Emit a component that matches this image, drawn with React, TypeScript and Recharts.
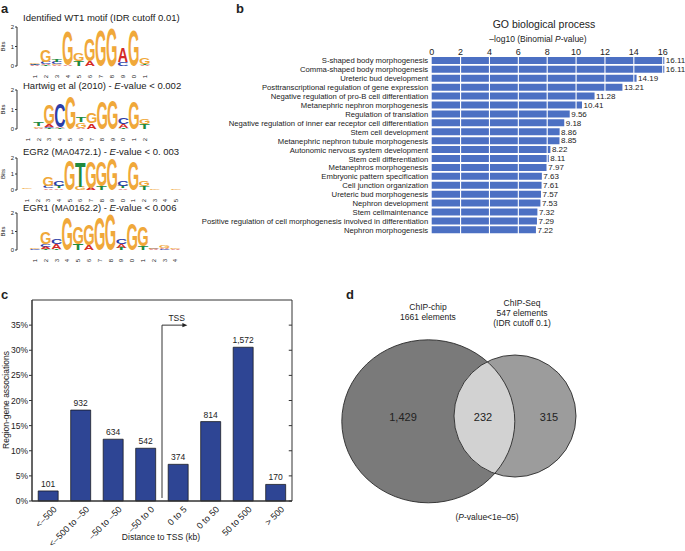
import React from 'react';
import {
  BarChart, Bar, XAxis, YAxis, ReferenceLine, ReferenceArea, LabelList,
  ScatterChart, Scatter, ComposedChart, Line,
} from 'recharts';

const FONT = '"Liberation Sans", Arial, Helvetica, sans-serif';
const INK = '#222';

// ---------------- Panel a : motif logos ----------------
const logoTitlePre = [
  'Identified WT1 motif (IDR cutoff 0.01)',
  'Hartwig et al (2010) - ',
  'EGR2 (MA0472.1) - ',
  'EGR1 (MA0162.2) - ',
];
const logoTitlePost = ['', '-value < 0.002', '-value < 0. 003', '-value < 0.006'];
const bitsTicks = [0, 1, 2];

type Stack = [string, number][];
const logo1: Stack[] = [
  [['A', 0.03], ['T', 0.03], ['C', 0.04], ['G', 0.05]],
  [['T', 0.04], ['A', 0.08], ['C', 0.1], ['G', 0.62]],
  [['A', 0.05], ['G', 0.05], ['C', 0.1], ['T', 0.14]],
  [['A', 0.04], ['G', 1.78]],
  [['T', 0.28], ['G', 0.38]],
  [['A', 0.25], ['G', 1.15]],
  [['G', 1.87]],
  [['G', 1.98]],
  [['C', 0.18], ['A', 0.75]],
  [['G', 1.82]],
  [['A', 0.04], ['T', 0.08], ['G', 0.32]],
];
const logo2: Stack[] = [
  [['A', 0.02], ['G', 0.02]],
  [['A', 0.06], ['G', 0.08], ['T', 0.22]],
  [['T', 0.04], ['C', 0.08], ['A', 0.12], ['G', 1.05]],
  [['T', 0.04], ['A', 0.05], ['C', 1.25]],
  [['G', 1.7]],
  [['A', 0.05], ['G', 0.3], ['T', 0.3]],
  [['A', 0.3], ['G', 0.55]],
  [['G', 1.42]],
  [['G', 1.5]],
  [['T', 0.06], ['A', 0.2], ['C', 0.35]],
  [['G', 1.45]],
  [['T', 0.25], ['G', 0.3]],
];
const logo3: Stack[] = [
  [['T', 0.02], ['A', 0.03], ['G', 0.06]],
  [['G', 0.02]],
  [['A', 0.1], ['C', 0.12], ['G', 0.55]],
  [['A', 0.1], ['T', 0.12], ['C', 0.3]],
  [['G', 1.95]],
  [['G', 0.2], ['T', 1.6]],
  [['A', 0.12], ['G', 1.68]],
  [['T', 0.28], ['G', 1.55]],
  [['G', 1.98]],
  [['A', 0.1], ['T', 0.12], ['C', 0.32]],
  [['G', 1.82]],
  [['T', 0.22], ['G', 0.32]],
  [['A', 0.03], ['G', 0.06]],
  [['G', 0.03]],
  [['A', 0.03], ['G', 0.06]],
];
const logo4: Stack[] = [
  [['T', 0.02], ['C', 0.03], ['G', 0.04]],
  [['T', 0.05], ['A', 0.12], ['C', 0.15], ['G', 0.65]],
  [['T', 0.05], ['A', 0.25], ['C', 0.28]],
  [['G', 1.78]],
  [['T', 0.35], ['G', 0.95]],
  [['A', 0.25], ['G', 1.15]],
  [['G', 1.82]],
  [['G', 1.98]],
  [['T', 0.1], ['A', 0.2], ['C', 0.3]],
  [['G', 1.45]],
  [['T', 0.2], ['G', 1.1]],
  [['A', 0.04], ['C', 0.04], ['G', 0.05]],
  [['C', 0.05], ['A', 0.05], ['G', 0.12]],
  [['A', 0.03], ['G', 0.05]],
];
const logoStacks = [logo1, logo2, logo3, logo4];

// ---------------- Panel b : GO biological process ----------------
const goTerms = [
  'S-shaped body morphogenesis',
  'Comma-shaped body morphogenesis',
  'Ureteric bud development',
  'Posttranscriptional regulation of gene expression',
  'Negative regulation of pro-B cell differentiation',
  'Metanephric nephron morphogenesis',
  'Regulation of translation',
  'Negative regulation of inner ear receptor cell differentiation',
  'Stem cell development',
  'Metanephric nephron tubule morphogenesis',
  'Autonomic nervous system development',
  'Stem cell differentiation',
  'Metanephros morphogenesis',
  'Embryonic pattern specification',
  'Cell junction organization',
  'Ureteric bud morphogenesis',
  'Nephron development',
  'Stem cellmaintenance',
  'Positive regulation of cell morphogenesis involved in differentiation',
  'Nephron morphogenesis',
];
const goValues = [16.11, 16.11, 14.19, 13.21, 11.28, 10.41, 9.56, 9.18, 8.86, 8.85, 8.22, 8.11, 7.97, 7.63, 7.61, 7.57, 7.53, 7.32, 7.29, 7.22];
const goTicks = [0, 2, 4, 6, 8, 10, 12, 14, 16];

// ---------------- Panel c : distance to TSS ----------------
const tssBins = ['<–500', '<–500 to –50', '–50 to –50', '–50 to 0', '0 to 5', '0 to 50', '50 to 500', '> 500'];
const tssCounts = [101, 932, 634, 542, 374, 814, 1572, 170];
const tssPercent = [2.0, 18.1, 12.3, 10.5, 7.3, 15.8, 30.6, 3.3];
const tssTicks = [0, 5, 10, 15, 20, 25, 30, 35];

// ---------------- Panel d : Venn ----------------
const vennNames = ['ChIP-chip', 'ChIP-Seq'];
const vennCx = [88.3, 175];
const vennCy = [131.3, 126];
const vennRx = [86.5, 61];
const vennRy = [81.5, 61];
const vennCounts = ['1,429', '232', '315'];

// ---------------- helpers ----------------
const LETTER_COLORS: Record<string, string> = { A: '#D42A26', C: '#2B3DA8', G: '#F0A83A', T: '#208A3E' };
const LETTER_INK: Record<string, number> = { A: 70, C: 64, G: 68, T: 58 };

function Letter(props: any) {
  const { x, y, width, height, letter } = props;
  if (!letter || !(height > 0.3)) return null;
  const sx = width / LETTER_INK[letter];
  const sy = height / 72;
  return (
    <text
      transform={`translate(${x + width / 2},${y + height}) scale(${sx},${sy})`}
      textAnchor="middle"
      fontFamily={FONT}
      fontWeight={700}
      fontSize={100}
      fill={LETTER_COLORS[letter]}
    >
      {letter}
    </text>
  );
}

const logoLayouts = [
  { plotTop: 27, plotBottom: 66, first: 35, step: 11 },
  { plotTop: 90, plotBottom: 129, first: 28, step: 10.6 },
  { plotTop: 158, plotBottom: 190, first: 27, step: 10.65 },
  { plotTop: 213, plotBottom: 250, first: 35, step: 10.8 },
];
const logoTitleY = [20.5, 88.5, 155, 211];

function Logo({ idx }: { idx: number }) {
  const L = logoLayouts[idx];
  const stacks = logoStacks[idx];
  const n = stacks.length;
  const data = stacks.map((s, i) => {
    const row: any = { pos: String(i + 1) };
    for (let k = 0; k < 4; k++) {
      row['h' + k] = s[k] ? s[k][1] : 0;
      row['c' + k] = s[k] ? s[k][0] : '';
    }
    return row;
  });
  const axisX = 17;
  const mt = 4;
  const xh = 12;
  const plotRight = L.first + (n - 0.5) * L.step;
  const padLeft = L.first - L.step / 2 - axisX;
  const width = plotRight + 2;
  const height = mt + (L.plotBottom - L.plotTop) + xh;
  return (
    <div style={{ position: 'absolute', left: 0, top: L.plotTop - mt }}>
      <BarChart width={width} height={height} data={data} margin={{ top: mt, right: 2, bottom: 0, left: 0 }} barCategoryGap="3%">
        <XAxis
          dataKey="pos"
          axisLine={false}
          tickLine={false}
          height={xh}
          interval={0}
          padding={{ left: padLeft, right: 0 }}
          tick={(p: any) => (
            <text transform={`translate(${p.x + 2},${p.y + 1}) rotate(-90)`} textAnchor="end" fontSize={6} fill={INK} fontFamily={FONT}>
              {p.payload.value}
            </text>
          )}
        />
        <YAxis
          width={axisX}
          domain={[0, 2]}
          ticks={bitsTicks}
          tickSize={2}
          tickMargin={1}
          stroke="#333"
          tick={{ fontSize: 6, fill: INK, fontFamily: FONT }}
          label={{ value: 'Bits', angle: -90, position: 'insideLeft', offset: 3, style: { fontSize: 6, fill: INK, fontFamily: FONT, textAnchor: 'middle' } }}
        />
        {[0, 1, 2, 3].map((k) => (
          <Bar
            key={k}
            dataKey={'h' + k}
            stackId="s"
            isAnimationActive={false}
            shape={(p: any) => <Letter {...p} letter={p.payload ? p.payload['c' + k] : ''} />}
          />
        ))}
      </BarChart>
    </div>
  );
}

function GoChart() {
  const data = goTerms.map((t, i) => ({ term: t, v: goValues[i] }));
  return (
    <div style={{ position: 'absolute', left: 190, top: 0 }}>
      <BarChart
        width={495}
        height={240}
        data={data}
        layout="vertical"
        margin={{ top: 46.2, right: 19.4, bottom: 5.5, left: 0 }}
        barCategoryGap="8%"
      >
        <XAxis
          type="number"
          orientation="top"
          domain={[0, 16.2]}
          ticks={goTicks}
          height={10}
          axisLine={false}
          tickLine={false}
          tickSize={0}
          tickMargin={1}
          tick={{ fontSize: 9, fill: INK, fontFamily: FONT }}
        />
        <YAxis
          type="category"
          dataKey="term"
          width={241.7}
          axisLine={false}
          tickLine={false}
          tickSize={0}
          tickMargin={3.5}
          interval={0}
          tick={(p: any) => (
            <text x={p.x} y={p.y} dy={2.8} textAnchor="end" fontSize={7.7} fill={INK} fontFamily={FONT}>
              {p.payload.value}
            </text>
          )}
        />
        <Bar dataKey="v" fill="#4C70C3" isAnimationActive={false}>
          <LabelList dataKey="v" position="right" offset={1.5} fontSize={8} fill={INK} fontFamily={FONT} formatter={(v: any) => Number(v).toFixed(2)} />
        </Bar>
        {goTicks.slice(1).map((t) => (
          <ReferenceLine key={t} x={t} stroke="#ffffff" strokeWidth={1.1} />
        ))}
      </BarChart>
    </div>
  );
}

const TSS_W = 300;
const TSS_H = 266;
const TSS_M = { top: 15, right: 8, bottom: 0, left: 0 };

function TssChart() {
  const data = tssBins.map((b, i) => ({ bin: b, pct: tssPercent[i], count: tssCounts[i] }));
  const frameData = [{ n: 0, v: 0 }, { n: tssBins.length, v: 0 }];
  return (
    <>
      <div style={{ position: 'absolute', left: 0, top: 285 }}>
        <BarChart width={TSS_W} height={TSS_H} data={data} margin={TSS_M} barCategoryGap="19%">
          <XAxis
            dataKey="bin"
            height={50}
            interval={0}
            stroke="#333"
            tickLine={false}
            tick={(p: any) => (
              <text transform={`translate(${p.x + 9},${p.y + 1}) rotate(-45)`} textAnchor="end" fontSize={9} fill={INK} fontFamily={FONT}>
                {p.payload.value}
              </text>
            )}
          />
          <YAxis
            width={32}
            domain={[0, 40]}
            ticks={tssTicks}
            tickFormatter={(v: any) => v + '%'}
            stroke="#333"
            tickSize={3}
            tickMargin={1}
            tick={{ fontSize: 8.5, fill: INK, fontFamily: FONT }}
          />
          <Bar dataKey="pct" fill="#2E4594" stroke="#111" strokeWidth={0.7} isAnimationActive={false}>
            <LabelList dataKey="count" position="top" offset={4} fontSize={8.5} fill={INK} fontFamily={FONT} formatter={(v: any) => Number(v).toLocaleString('en-US')} />
          </Bar>
        </BarChart>
      </div>
      <div style={{ position: 'absolute', left: 0, top: 285, pointerEvents: 'none' }}>
        <ComposedChart width={TSS_W} height={TSS_H} data={frameData} margin={{ top: 15, right: 8, bottom: 50, left: 32 }}>
          <XAxis xAxisId="n" type="number" dataKey="n" domain={[0, tssBins.length]} hide />
          <YAxis domain={[0, 40]} hide />
          <Line xAxisId="n" dataKey="v" stroke="none" dot={false} isAnimationActive={false} />
          <ReferenceArea xAxisId="n" x1={0} x2={tssBins.length} y1={0} y2={40} fill="none" stroke="#333" strokeWidth={1} ifOverflow="visible" />
          {tssTicks.map((v) => (
            <ReferenceLine key={v} xAxisId="n" segment={[{ x: tssBins.length, y: v }, { x: tssBins.length - 0.1, y: v }]} stroke="#333" />
          ))}
          <ReferenceLine xAxisId="n" segment={[{ x: 4, y: 0.6 }, { x: 4, y: 35 }]} stroke="#333" />
          <ReferenceLine
            xAxisId="n"
            segment={[{ x: 4, y: 35 }, { x: 4.78, y: 35 }]}
            stroke="#333"
            shape={(p: any) => (
              <g>
                <line x1={p.x1} y1={p.y1} x2={p.x2 - 3} y2={p.y2} stroke="#333" strokeWidth={1} />
                <polygon points={`${p.x2},${p.y2} ${p.x2 - 5},${p.y2 - 2.2} ${p.x2 - 5},${p.y2 + 2.2}`} fill="#222" />
                <text x={(p.x1 + p.x2) / 2 + 2} y={p.y1 - 4} textAnchor="middle" fontSize={8.5} fill={INK} fontFamily={FONT}>TSS</text>
              </g>
            )}
          />
        </ComposedChart>
      </div>
    </>
  );
}

function VennChart() {
  const big = { x: vennCx[0], y: vennCy[0], rx: vennRx[0], ry: vennRy[0], k: 0 };
  const small = { x: vennCx[1], y: vennCy[1], rx: vennRx[1], ry: vennRy[1], k: 1 };
  const fills = ['#7a7a7a', '#9c9c9c'];
  return (
    <div style={{ position: 'absolute', left: 340, top: 290 }}>
      <ScatterChart width={345} height={261} margin={{ top: 0, right: 0, bottom: 0, left: 0 }}>
        <XAxis type="number" dataKey="x" domain={[0, 345]} hide />
        <YAxis type="number" dataKey="y" domain={[0, 261]} reversed hide />
        <Scatter
          data={[big, small]}
          isAnimationActive={false}
          shape={(p: any) => (
            <ellipse cx={p.cx} cy={p.cy} rx={p.payload.rx} ry={p.payload.ry} fill={fills[p.payload.k]} />
          )}
        />
        <Scatter
          data={[small]}
          isAnimationActive={false}
          shape={(p: any) => (
            <g>
              <defs>
                <clipPath id="vennBigClip">
                  <ellipse cx={p.cx + (big.x - small.x)} cy={p.cy + (big.y - small.y)} rx={big.rx} ry={big.ry} />
                </clipPath>
              </defs>
              <ellipse cx={p.cx} cy={p.cy} rx={p.payload.rx} ry={p.payload.ry} fill="#d2d2d2" clipPath="url(#vennBigClip)" />
            </g>
          )}
        />
        <Scatter
          data={[big, small]}
          isAnimationActive={false}
          shape={(p: any) => (
            <ellipse cx={p.cx} cy={p.cy} rx={p.payload.rx} ry={p.payload.ry} fill="none" stroke="#2a2a2a" strokeWidth={0.9} />
          )}
        />
      </ScatterChart>
    </div>
  );
}

export default function App() {
  const t = { fontFamily: FONT, fill: INK } as any;
  return (
    <div style={{ position: 'absolute', left: 0, top: 0, width: 685, height: 551, background: '#fff', overflow: 'hidden' }}>
      {[0, 1, 2, 3].map((i) => <Logo key={i} idx={i} />)}
      <GoChart />
      <TssChart />
      <VennChart />
      <svg width={685} height={551} style={{ position: 'absolute', left: 0, top: 0, pointerEvents: 'none' }}>
        <text x={1} y={13} fontSize={13} fontWeight={700} {...t}>a</text>
        <text x={236} y={13} fontSize={13} fontWeight={700} {...t}>b</text>
        <text x={1} y={299} fontSize={13} fontWeight={700} {...t}>c</text>
        <text x={346} y={299} fontSize={13} fontWeight={700} {...t}>d</text>
        {logoTitlePre.map((pre, i) => (
          <text key={i} x={23} y={logoTitleY[i]} fontSize={9.5} {...t}>
            {pre}
            {logoTitlePost[i] ? <tspan fontStyle="italic">E</tspan> : null}
            {logoTitlePost[i] ? <tspan>{logoTitlePost[i]}</tspan> : null}
          </text>
        ))}
        <text x={544} y={28} fontSize={10.5} textAnchor="middle" {...t}>GO biological process</text>
        <text x={538} y={42} fontSize={8.5} textAnchor="middle" {...t}>
          –log10 (Binomial <tspan fontStyle="italic">P</tspan>-value)
        </text>
        <text transform="translate(9,400) rotate(-90)" fontSize={8.5} textAnchor="middle" {...t}>Region-gene associations</text>
        <text x={161} y={540} fontSize={8.5} textAnchor="middle" {...t}>Distance to TSS (kb)</text>
        <text x={428} y={310} fontSize={8.5} textAnchor="middle" {...t}>{vennNames[0]}</text>
        <text x={428} y={320} fontSize={8.5} textAnchor="middle" {...t}>1661 elements</text>
        <text x={522} y={306} fontSize={8.5} textAnchor="middle" {...t}>{vennNames[1]}</text>
        <text x={522} y={316} fontSize={8.5} textAnchor="middle" {...t}>547 elements</text>
        <text x={522} y={326} fontSize={8.5} textAnchor="middle" {...t}>(IDR cutoff 0.1)</text>
        <text x={403} y={421} fontSize={11} textAnchor="middle" {...t}>{vennCounts[0]}</text>
        <text x={483} y={421} fontSize={11} textAnchor="middle" {...t}>{vennCounts[1]}</text>
        <text x={549} y={421} fontSize={11} textAnchor="middle" {...t}>{vennCounts[2]}</text>
        <text x={487} y={520} fontSize={8.5} textAnchor="middle" {...t}>
          (<tspan fontStyle="italic">P</tspan>-value&lt;1e–05)
        </text>
      </svg>
    </div>
  );
}
